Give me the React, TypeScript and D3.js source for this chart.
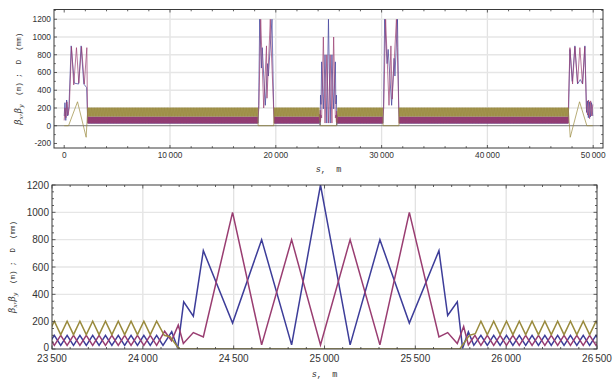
import React, { useEffect, useRef } from 'react';
import * as d3 from 'd3';

type Pt = [number, number];

// one FODO cell of the arcs (F quad at 0, D quad at 0.5)
const cellLength = 70.4;
const cellFrac = [0, 0.5];
const cellBetaX = [100, 27];
const cellBetaY = [27, 100];
const cellDisp = [203, 105];

// arcs: position of the first focusing quad (m) and number of cells
const arcFirstQuad = [2230, 19852, 25861, 31660];
const arcCells = [228, 60, 60, 227];

// straight sections, [s (m), value]
// ring start (IP at s = 0)
const ir0aBetaX: Pt[] = [[0, 110], [70, 260], [150, 60], [230, 290], [330, 110], [450, 220], [660, 900], [960, 480], [1360, 470], [1600, 900], [1850, 470], [2120, 430], [2200, 130], [2230, 100]];
const ir0aBetaY: Pt[] = [[0, 60], [80, 200], [170, 90], [260, 270], [360, 120], [480, 200], [690, 890], [900, 460], [1160, 880], [1380, 480], [1640, 890], [1900, 470], [2140, 880], [2200, 150], [2230, 27]];
const ir0aDisp: Pt[] = [[0, 0], [410, 0], [1260, 270], [2075, -130], [2230, 203]];

// straight near 19 km
const ir1BetaX: Pt[] = [[18281, 100], [18316, 27], [18380, 230], [18478, 1200], [18640, 650], [18720, 880], [19008, 230], [19230, 700], [19300, 560], [19640, 1200], [19800, 200], [19852, 100]];
const ir1BetaY: Pt[] = [[18281, 27], [18330, 100], [18400, 200], [18573, 1200], [18856, 200], [19120, 900], [19168, 310], [19480, 1200], [19560, 900], [19760, 300], [19820, 100], [19852, 27]];
const ir1Disp: Pt[] = [[18281, 203], [18300, 200], [18330, 0], [19810, 0], [19830, 110], [19852, 203]];

// straight near 25 km (lower panel)
const ir2BetaX: Pt[] = [[24076, 100], [24111, 27], [24159, 127], [24192, 5], [24225, 345], [24278, 240], [24333, 720], [24494, 190], [24654, 800], [24819, 30], [24978, 1200], [25141, 30], [25305, 800], [25467, 190], [25630, 720], [25678, 245], [25731, 345], [25760, 5], [25792, 125], [25822, 27], [25861, 100]];
const ir2BetaY: Pt[] = [[24076, 27], [24120, 130], [24158, 60], [24195, 175], [24223, 40], [24278, 120], [24333, 88], [24494, 1000], [24654, 30], [24819, 800], [24978, 30], [25141, 800], [25305, 30], [25467, 1000], [25630, 88], [25678, 120], [25731, 40], [25766, 165], [25792, 30], [25828, 100], [25861, 27]];
const ir2Disp: Pt[] = [[24076, 203], [24118, 100], [24150, 90], [24200, 0], [25745, 0], [25797, 100], [25830, 112], [25861, 203]];

// straight near 31 km
const ir3BetaX: Pt[] = [[30085, 100], [30120, 27], [30180, 220], [30290, 1200], [30520, 700], [30620, 860], [30950, 230], [31180, 760], [31260, 560], [31500, 1200], [31620, 200], [31660, 100]];
const ir3BetaY: Pt[] = [[30085, 27], [30130, 100], [30200, 200], [30380, 1200], [30700, 230], [30880, 900], [31000, 300], [31400, 1200], [31480, 880], [31600, 300], [31640, 100], [31660, 27]];
const ir3Disp: Pt[] = [[30085, 203], [30105, 200], [30140, 0], [31640, 0], [31650, 110], [31660, 203]];

// ring end
const ir0bBetaX: Pt[] = [[47641, 100], [47680, 200], [47800, 860], [48020, 500], [48270, 900], [48520, 470], [48780, 520], [49000, 470], [49215, 900], [49370, 150], [49450, 280], [49540, 90], [49640, 270], [49740, 100], [49840, 260], [49960, 110]];
const ir0bBetaY: Pt[] = [[47641, 27], [47670, 300], [47800, 880], [48050, 470], [48270, 890], [48520, 480], [48740, 880], [48990, 470], [49200, 890], [49360, 200], [49470, 120], [49560, 290], [49660, 80], [49760, 280], [49860, 110], [49960, 240]];
const ir0bDisp: Pt[] = [[47641, 203], [47830, -130], [48710, 270], [49400, 0], [49960, 0]];

const colors = { bx: '#3d3d99', by: '#993d71', d: '#998a3d' };

// lay the measured cell into an arc
const buildArc = (i: number, values: number[]): Pt[] => {
  const pts: Pt[] = [];
  for (let k = 0; k < arcCells[i]; k++) {
    cellFrac.forEach((f, j) => pts.push([arcFirstQuad[i] + (k + f) * cellLength, values[j]]));
  }
  pts.push([arcFirstQuad[i] + arcCells[i] * cellLength, values[0]]);
  return pts;
};

// straight, arc, straight, arc ... straight
const joinRing = (straights: Pt[][], values: number[]): Pt[] => {
  const out: Pt[] = [];
  straights.forEach((st, i) => {
    out.push(...st);
    if (i < arcFirstQuad.length) out.push(...buildArc(i, values));
  });
  return out;
};

const betaX = joinRing([ir0aBetaX, ir1BetaX, ir2BetaX, ir3BetaX, ir0bBetaX], cellBetaX);
const betaY = joinRing([ir0aBetaY, ir1BetaY, ir2BetaY, ir3BetaY, ir0bBetaY], cellBetaY);
const disp = joinRing([ir0aDisp, ir1Disp, ir2Disp, ir3Disp, ir0bDisp], cellDisp);

const fmt = (v: number) => (Math.abs(v) >= 10000 ? d3.format(',')(v).replace(/,/g, '\u2009') : String(v));

function drawPanel(root, o) {
  const x = d3.scaleLinear().domain(o.xDomain).range([o.left, o.right]);
  const y = d3.scaleLinear().domain(o.yDomain).range([o.bottom, o.top]);
  const g = root.append('g');

  g.append('clipPath').attr('id', o.id)
    .append('rect')
    .attr('x', o.left).attr('y', o.top)
    .attr('width', o.right - o.left).attr('height', o.bottom - o.top);

  // grid
  g.selectAll('.gx').data(o.xGrid).enter().append('line')
    .attr('x1', d => x(d)).attr('x2', d => x(d))
    .attr('y1', o.top).attr('y2', o.bottom)
    .attr('stroke', '#e2e2e2').attr('stroke-width', 1.3);
  g.selectAll('.gy').data(o.yGrid).enter().append('line')
    .attr('x1', o.left).attr('x2', o.right)
    .attr('y1', d => y(d)).attr('y2', d => y(d))
    .attr('stroke', '#e6e6e6').attr('stroke-width', 1.3);

  if (o.zeroAxis) {
    g.append('line')
      .attr('x1', o.left).attr('x2', o.right)
      .attr('y1', y(0)).attr('y2', y(0))
      .attr('stroke', '#666').attr('stroke-width', 0.9);
  }

  const line = d3.line<Pt>().x(d => x(d[0])).y(d => y(d[1]));
  const inRange = (pts: Pt[]) => {
    const [a, b] = o.xDomain;
    return pts.filter((p, i) => {
      const prev = pts[Math.max(0, i - 1)][0];
      const next = pts[Math.min(pts.length - 1, i + 1)][0];
      return next >= a && prev <= b;
    });
  };
  const data = g.append('g').attr('clip-path', `url(#${o.id})`);
  [[betaX, colors.bx], [betaY, colors.by], [disp, colors.d]].forEach(([pts, c]) => {
    data.append('path')
      .datum(inRange(pts as Pt[]))
      .attr('fill', 'none')
      .attr('stroke', c as string)
      .attr('stroke-width', o.lineWidth)
      .attr('stroke-linejoin', 'miter')
      .attr('d', line);
  });

  // frame
  g.append('rect')
    .attr('x', o.left).attr('y', o.top)
    .attr('width', o.right - o.left).attr('height', o.bottom - o.top)
    .attr('fill', 'none').attr('stroke', '#3a3a3a').attr('stroke-width', 1);

  // ticks, pointing inward on all four sides
  const tick = (vals: number[], len: number) => {
    vals.forEach(v => {
      const px = x(v);
      if (px < o.left - 0.5 || px > o.right + 0.5) return;
      g.append('line').attr('x1', px).attr('x2', px).attr('y1', o.bottom).attr('y2', o.bottom - len).attr('stroke', '#3a3a3a').attr('stroke-width', 0.8);
      g.append('line').attr('x1', px).attr('x2', px).attr('y1', o.top).attr('y2', o.top + len).attr('stroke', '#3a3a3a').attr('stroke-width', 0.8);
    });
  };
  const ytick = (vals: number[], len: number) => {
    vals.forEach(v => {
      const py = y(v);
      if (py < o.top - 0.5 || py > o.bottom + 0.5) return;
      g.append('line').attr('y1', py).attr('y2', py).attr('x1', o.left).attr('x2', o.left + len).attr('stroke', '#3a3a3a').attr('stroke-width', 0.8);
      g.append('line').attr('y1', py).attr('y2', py).attr('x1', o.right).attr('x2', o.right - len).attr('stroke', '#3a3a3a').attr('stroke-width', 0.8);
    });
  };
  tick(o.xMajor, o.majorLen);
  tick(o.xMinor.filter(v => !o.xMajor.includes(v)), o.minorLen);
  ytick(o.yMajor, o.majorLen);
  ytick(o.yMinor.filter(v => !o.yMajor.includes(v)), o.minorLen);

  // tick labels
  g.selectAll('.xl').data(o.xMajor).enter().append('text')
    .attr('x', d => x(d)).attr('y', o.xLabelY)
    .attr('text-anchor', 'middle')
    .attr('font-family', 'Liberation Sans, Arial, sans-serif')
    .attr('font-size', o.fontSize).attr('fill', '#333')
    .text(d => fmt(d));
  g.selectAll('.yl').data(o.yMajor).enter().append('text')
    .attr('x', o.left - 3).attr('y', d => y(d) + o.fontSize * 0.35 - (d === o.yDomain[0] ? 1.5 : 0))
    .attr('text-anchor', 'end')
    .attr('font-family', 'Liberation Sans, Arial, sans-serif')
    .attr('font-size', o.fontSize).attr('fill', '#333')
    .text(d => fmt(d));

  // axis titles
  const xt = g.append('text')
    .attr('x', (o.left + o.right) / 2).attr('y', o.xTitleY)
    .attr('text-anchor', 'middle')
    .attr('font-family', 'Liberation Mono, monospace')
    .attr('font-size', 8.5).attr('fill', '#333');
  xt.append('tspan').attr('font-style', 'italic').text('s');
  xt.append('tspan').text(',\u00a0\u00a0m');

  const cy = (o.top + o.bottom) / 2;
  const yt = g.append('text')
    .attr('transform', `translate(${o.yTitleX},${cy}) rotate(-90)`)
    .attr('text-anchor', 'middle')
    .attr('fill', '#333')
    .attr('font-size', 9);
  const greek = (sub: string) => {
    yt.append('tspan').attr('font-family', 'DejaVu Serif, serif').attr('font-style', 'italic').text('β');
    yt.append('tspan').attr('font-family', 'DejaVu Serif, serif').attr('font-style', 'italic').attr('font-size', 6).attr('dy', 2).text(sub);
  };
  greek('x');
  yt.append('tspan').attr('dy', -2).attr('font-family', 'DejaVu Serif, serif').text(',');
  greek('y');
  yt.append('tspan').attr('dy', -2).attr('font-family', 'Liberation Mono, monospace').attr('font-size', 7.5)
    .text('\u00a0\u00a0(m)\u00a0;\u00a0\u00a0D\u00a0\u00a0(mm)');
}

const App = () => {
  const svgRef = useRef<SVGSVGElement>(null);

  useEffect(() => {
    const root = d3.select(svgRef.current);
    root.selectAll('*').remove();

    drawPanel(root, {
      id: 'clipTop',
      left: 54, right: 603, top: 9.5, bottom: 148,
      xDomain: [-964, 50926], yDomain: [-251, 1310],
      xMajor: d3.range(0, 50001, 10000), xMinor: d3.range(0, 50001, 2000),
      yMajor: d3.range(-200, 1201, 200), yMinor: d3.range(-200, 1301, 100),
      xGrid: d3.range(10000, 50001, 10000), yGrid: d3.range(200, 1201, 200),
      zeroAxis: true, lineWidth: 0.7, fontSize: 8.3,
      majorLen: 3, minorLen: 1.8,
      xLabelY: 157.5, xTitleY: 171.5, yTitleX: 21,
    });

    drawPanel(root, {
      id: 'clipBottom',
      left: 52, right: 597, top: 185, bottom: 349,
      xDomain: [23500, 26500], yDomain: [0, 1200],
      xMajor: d3.range(23500, 26501, 500), xMinor: d3.range(23500, 26501, 100),
      yMajor: d3.range(0, 1201, 200), yMinor: d3.range(0, 1201, 50),
      xGrid: d3.range(24000, 26001, 500), yGrid: d3.range(200, 1001, 200),
      zeroAxis: false, lineWidth: 1.5, fontSize: 10,
      majorLen: 3.5, minorLen: 2,
      xLabelY: 361.5, xTitleY: 377, yTitleX: 15,
    });
  }, []);

  return (
    <svg ref={svgRef} width={616} height={380}
      style={{ position: 'absolute', left: 0, top: 0, background: '#fff' }} />
  );
};

export default App;
